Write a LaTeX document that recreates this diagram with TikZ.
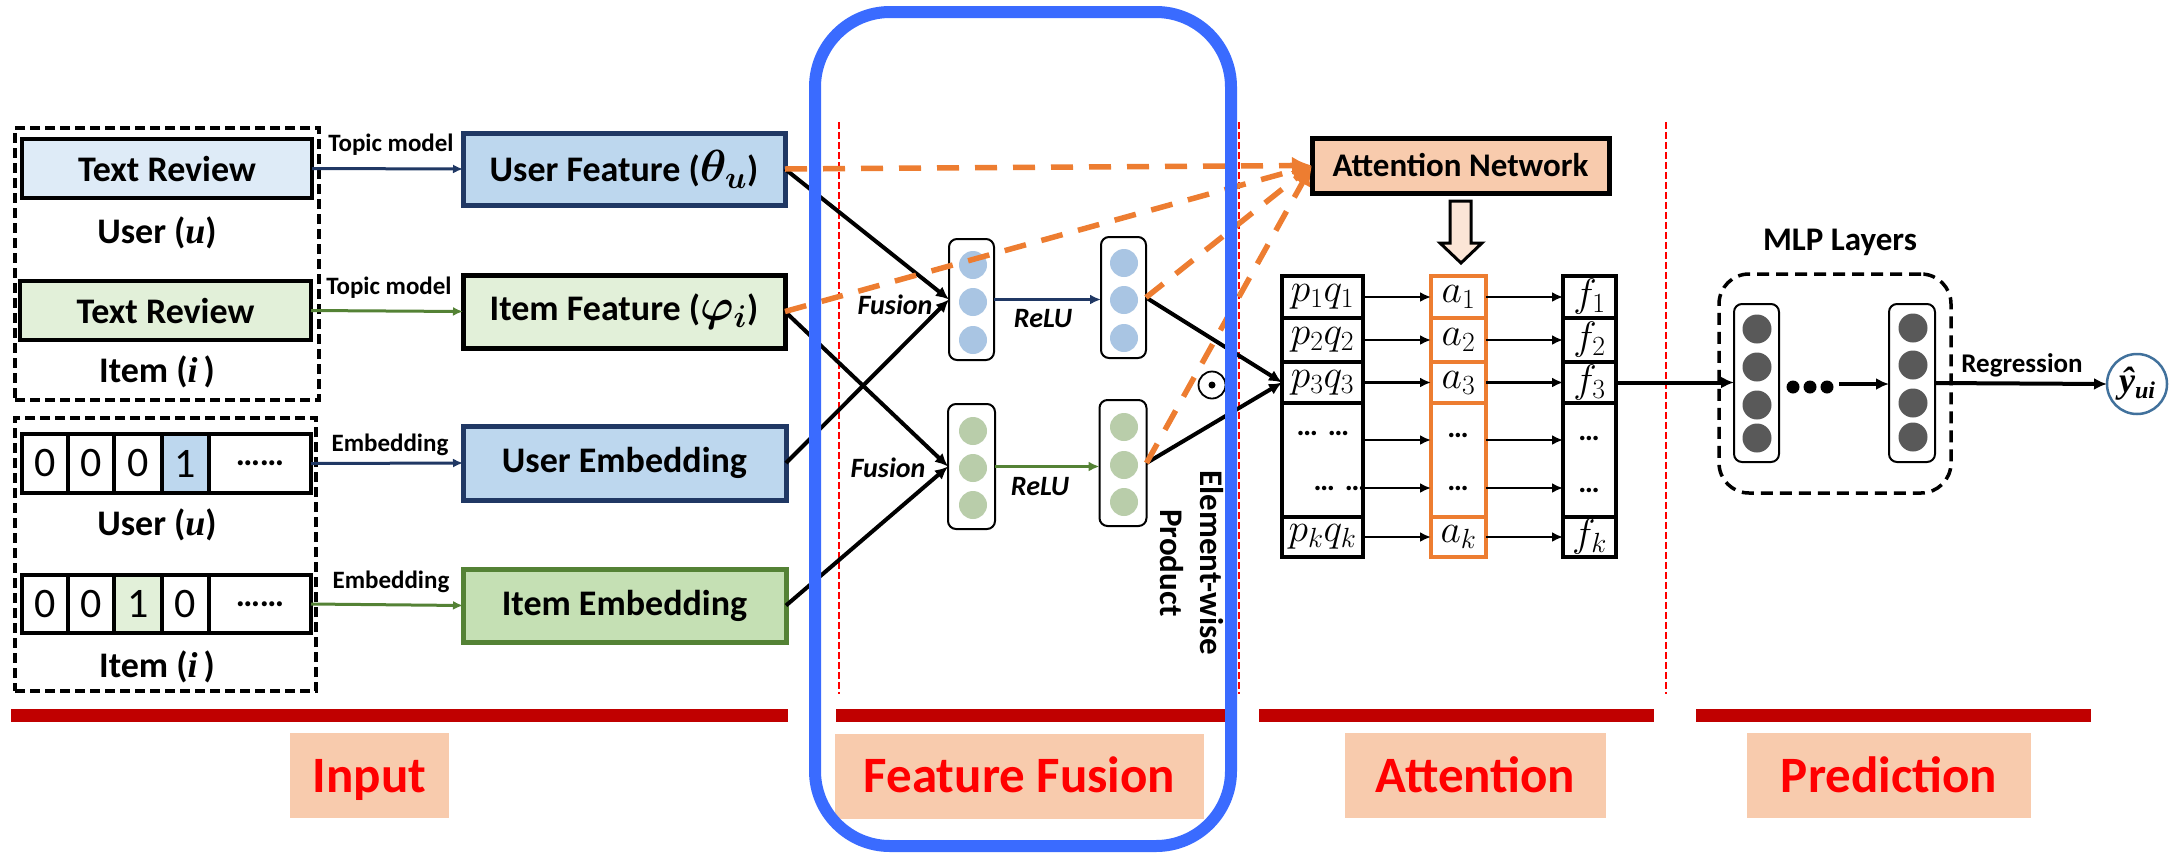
\RequirePackage{fix-cm}
\documentclass[tikz,border=0pt]{standalone}
\usepackage{fontspec}
\setmainfont{Carlito}
\newfontfamily\tserif{Liberation Serif}
\usepackage{bm}
\usetikzlibrary{arrows.meta,calc}
\newcommand{\fsz}[1]{\fontsize{#1}{#1}\selectfont}
\newcommand{\tabm}[1]{\scalebox{1.1}{$#1$}}

\definecolor{lblue}{HTML}{DEEBF7}
\definecolor{mblue}{HTML}{BDD7EE}
\definecolor{lgreen}{HTML}{E2F0D9}
\definecolor{mgreen}{HTML}{C5E0B4}
\definecolor{navy}{HTML}{203864}
\definecolor{dkgreen}{HTML}{548235}
\definecolor{orng}{HTML}{ED7D31}
\definecolor{peach}{HTML}{F8CBAD}
\definecolor{lpeach}{HTML}{FBE5D6}
\definecolor{fblue}{HTML}{3A6BFF}
\definecolor{barred}{HTML}{C00000}
\definecolor{bcirc}{HTML}{A9C5E3}
\definecolor{gcirc}{HTML}{B9CDAA}
\definecolor{mlpgray}{HTML}{595959}
\definecolor{ycirc}{HTML}{41719C}

\begin{document}
\begin{tikzpicture}[x=1pt,y=-1pt,
  every node/.style={inner sep=0pt,outer sep=0pt},
  bx/.style={draw,line width=4pt},
  grp/.style={draw,line width=4pt,dash pattern=on 10pt off 5pt},
  cell/.style={draw,line width=4pt,minimum width=#1,font=\fsz{42}},
  tag/.style={fill=peach,text=red,font=\fsz{51}\bfseries,minimum height=85pt,text height=33pt,text depth=0pt},
  prow/.style={draw,line width=4pt,minimum width=81pt,font=\fsz{36}},
  arow/.style={draw=orng,line width=3.5pt,minimum width=55pt,font=\fsz{36}},
  frow/.style={draw,line width=4pt,minimum width=53pt,font=\fsz{36}},
  vcol/.style={draw,line width=2pt,rounded corners=8pt,fill=white},
  dotc/.style={circle,minimum size=28pt,fill=#1},
  arr/.style={line width=3pt,-{Latex[length=10pt,width=9pt]}},
  blk/.style={line width=4pt,-{Latex[length=13pt,width=12pt]}},
  sarr/.style={line width=2.5pt,-{Latex[length=11pt,width=10pt]}},
  odash/.style={draw=orng,line width=5.5pt,dash pattern=on 22pt off 16pt,-{Latex[length=20pt,width=18pt]}},
  rdash/.style={draw=red,line width=2pt,dash pattern=on 7pt off 3pt},
  lbl/.style={font=\fsz{25}\bfseries}
]
\useasboundingbox (0,0) rectangle (2174,855);

% ---- section bars and captions
\fill[barred] (11,709) rectangle (788,722);
\fill[barred] (836,709) rectangle (1227,722);
\fill[barred] (1259,709) rectangle (1654,722);
\fill[barred] (1696,709) rectangle (2091,722);
\node[tag,minimum width=159pt] (lin) at (369.5,775.5) {Input};
\node[tag,minimum width=369pt] (lff) at (1019.5,776) {Feature Fusion};
\node[tag,minimum width=261pt] (lat) at (1475.5,775.5) {Attention};
\node[tag,minimum width=284pt] (lpr) at (1889,775.5) {Prediction};

% ---- section separators
\draw[rdash] (839,122) -- (839,694);
\draw[rdash] (1239,122) -- (1239,694);
\draw[rdash] (1666,122) -- (1666,694);

% ---- input: reviews
\node[grp,minimum width=304pt,minimum height=272pt] (g1) at (167,264) {};
\node[grp,minimum width=301pt,minimum height=273pt] (g2) at (165.5,554.5) {};
\node[bx,fill=lblue,minimum width=290pt,minimum height=59pt,font=\fsz{36}\bfseries] (tr1) at (167,168.5) {Text Review};
\node[bx,fill=lgreen,minimum width=291pt,minimum height=59pt,font=\fsz{36}\bfseries] (tr2) at (165.5,310.5) {Text Review};
\node[font=\fsz{36}\bfseries] (usr1) at (157,233) {User ({\tserif\itshape u})};
\node[font=\fsz{36}\bfseries] (itm1) at (157,372) {Item ({\tserif\itshape i}\,)};

% ---- input: one-hot ids
\node[cell=46pt,minimum height=59pt] (u1) at (45,463.5) {0};
\node[cell=46pt,minimum height=59pt] (u2) at (91,463.5) {0};
\node[cell=48pt,minimum height=59pt] (u3) at (138,463.5) {0};
\node[cell=47pt,minimum height=59pt,fill=mblue] (u4) at (185.5,463.5) {1};
\node[cell=102pt,minimum height=59pt] (u5) at (260,463.5) {\bfseries\fsz{34}……};
\node[cell=46pt,minimum height=58pt] (i1) at (45,604) {0};
\node[cell=46pt,minimum height=58pt] (i2) at (91,604) {0};
\node[cell=48pt,minimum height=58pt,fill=lgreen] (i3) at (138,604) {1};
\node[cell=47pt,minimum height=58pt] (i4) at (185.5,604) {0};
\node[cell=102pt,minimum height=58pt] (i5) at (260,604) {\bfseries\fsz{34}……};
\node[font=\fsz{36}\bfseries] (usr2) at (157,525) {User ({\tserif\itshape u})};
\node[font=\fsz{36}\bfseries] (itm2) at (157,667) {Item ({\tserif\itshape i}\,)};

% ---- features and embeddings
\node[bx,line width=5pt,draw=navy,fill=mblue,minimum width=322pt,minimum height=72pt,font=\fsz{36}\bfseries] (uf) at (624,169) {User Feature (\scalebox{1.25}{$\bm{\theta}_{\bm{u}}$})};
\node[bx,line width=5pt,fill=lgreen,minimum width=322pt,minimum height=73pt,font=\fsz{36}\bfseries] (itf) at (624,311.5) {Item Feature (\scalebox{1.25}{$\bm{\varphi}_{\bm{i}}$})};
\node[bx,line width=5pt,draw=navy,fill=mblue,minimum width=323pt,minimum height=74pt,font=\fsz{36}\bfseries] (ue) at (624.5,463) {User Embedding};
\node[bx,line width=5pt,draw=dkgreen,fill=mgreen,minimum width=323pt,minimum height=73pt,font=\fsz{36}\bfseries] (ie) at (624.5,605.5) {Item Embedding};

\draw[arr,navy] (tr1.east) -- (uf.west);
\draw[arr,dkgreen] (tr2.east) -- (itf.west);
\draw[arr,navy] (u5.east) -- (ue.west);
\draw[arr,dkgreen] (i5.east) -- (ie.west);
\node[lbl] (tm1) at (391,145) {Topic model};
\node[lbl] (tm2) at (389,288) {Topic model};
\node[lbl] (em1) at (390,445) {Embedding};
\node[lbl] (em2) at (391,582) {Embedding};

% ---- fusion layers
\node[vcol,minimum width=45pt,minimum height=121pt] (fl1) at (971.5,299.5) {};
\node[vcol,minimum width=45pt,minimum height=121pt] (fr1) at (1123.5,297.5) {};
\node[vcol,minimum width=47pt,minimum height=125pt] (fl2) at (971.5,466.5) {};
\node[vcol,minimum width=47pt,minimum height=126pt] (fr2) at (1123,463) {};
\foreach \yy [count=\n] in {265,302,340} \node[dotc=bcirc] (fl1c\n) at (973,\yy) {};
\foreach \yy [count=\n] in {263,300,338} \node[dotc=bcirc] (fr1c\n) at (1124,\yy) {};
\foreach \yy [count=\n] in {431,468,505} \node[dotc=gcirc] (fl2c\n) at (973,\yy) {};
\foreach \yy [count=\n] in {427,465,502} \node[dotc=gcirc] (fr2c\n) at (1124,\yy) {};

\draw[blk] (uf.east) -- (fl1.west);
\draw[blk] (ue.east) -- (fl1.west);
\draw[blk] (itf.east) -- (fl2.west);
\draw[blk] (ie.east) -- (fl2.west);
\draw[sarr,navy] (fl1.east) -- (fl1.east -| fr1.west);
\draw[sarr,dkgreen] (fl2.east) -- (fl2.east -| fr2.west);
\node[font=\fsz{28}\bfseries\itshape] (fu1) at (895,305) {Fusion};
\node[font=\fsz{28}\bfseries\itshape] (fu2) at (888,468) {Fusion};
\node[font=\fsz{28}\bfseries\itshape] (re1) at (1043,319) {ReLU};
\node[font=\fsz{28}\bfseries\itshape] (re2) at (1040,487) {ReLU};

% ---- attention network
\node[bx,line width=5pt,fill=peach,minimum width=297pt,minimum height=55pt,font=\fsz{33}\bfseries] (att) at (1460.5,165.5) {Attention Network};
\draw[line width=3pt,fill=lpeach,line join=miter] (1450,201) -- (1471,201) -- (1471,243) -- (1482,243) -- (1461,263) -- (1440,243) -- (1450,243) -- cycle;

\node[prow,minimum height=42pt] (p1) at (1322.5,297) {\tabm{p_1q_1}};
\node[prow,minimum height=44pt] (p2) at (1322.5,340) {\tabm{p_2q_2}};
\node[prow,minimum height=41pt] (p3) at (1322.5,382.5) {\tabm{p_3q_3}};
\node[prow,minimum height=114pt] (pd) at (1322.5,460) {};
\node[prow,minimum height=40pt] (pk) at (1322.5,537) {\tabm{p_kq_k}};
\node[font=\fsz{30}\bfseries] (pdt1) at (1323,433) {…\hspace{10pt}…};
\node[font=\fsz{30}\bfseries] (pdt2) at (1340,488) {…\hspace{10pt}…};

\node[arow,minimum height=42pt] (a1) at (1458.5,297) {\tabm{a_1}};
\node[arow,minimum height=44pt] (a2) at (1458.5,340) {\tabm{a_2}};
\node[arow,minimum height=41pt] (a3) at (1458.5,382.5) {\tabm{a_3}};
\node[arow,minimum height=114pt] (ad) at (1458.5,460) {};
\node[arow,minimum height=40pt] (ak) at (1458.5,537) {\tabm{a_k}};
\node[font=\fsz{30}\bfseries] (adt1) at (1458,435) {…};
\node[font=\fsz{30}\bfseries] (adt2) at (1458,488) {…};

\node[frow,minimum height=42pt] (f1) at (1589.5,297) {\tabm{f_1}};
\node[frow,minimum height=44pt] (f2) at (1589.5,340) {\tabm{f_2}};
\node[frow,minimum height=41pt] (f3) at (1589.5,382.5) {\tabm{f_3}};
\node[frow,minimum height=114pt] (fd) at (1589.5,460) {};
\node[frow,minimum height=40pt] (fk) at (1589.5,537) {\tabm{f_k}};
\node[font=\fsz{30}\bfseries] (fdt1) at (1589,438) {…};
\node[font=\fsz{30}\bfseries] (fdt2) at (1589,490) {…};

\foreach \r in {1,2,3,k} {
  \draw[sarr] (p\r.east) -- (a\r.west);
  \draw[sarr] (a\r.east) -- (f\r.west);
}
\foreach \s in {20,-28} {
  \draw[sarr] ([yshift=\s pt]pd.east) -- ([yshift=\s pt]ad.west);
  \draw[sarr] ([yshift=\s pt]ad.east) -- ([yshift=\s pt]fd.west);
}

% ---- element-wise product
\draw[blk] (fr1.east) -- (p3.west);
\draw[blk] (fr2.east) -- (p3.west);
\node[circle,draw,line width=1.8pt,minimum size=27pt] (od) at (1212,385) {};
\fill (od.center) circle[radius=3.5];
\node[rotate=-90,align=center,font=\fontsize{33}{40}\selectfont\bfseries] (ewp) at (1192,563) {Element-wise\\Product};

% ---- inputs of the attention network
\draw[odash] (uf.east) -- (att.west);
\draw[odash] (itf.east) -- (att.west);
\draw[odash] (fr1.east) -- (att.west);
\draw[odash] (fr2.east) -- (att.west);

% ---- prediction
\node[font=\fsz{33}\bfseries] (mlpt) at (1840,242) {MLP Layers};
\node[draw,line width=3.5pt,dash pattern=on 12pt off 7pt,rounded corners=30pt,minimum width=232pt,minimum height=219pt] (mlp) at (1835,383.5) {};
\node[vcol,minimum width=45pt,minimum height=158pt] (m1) at (1756.5,383) {};
\node[vcol,minimum width=46pt,minimum height=158pt] (m2) at (1912,383) {};
\foreach \yy [count=\n] in {329,367,405,438} \node[dotc=mlpgray,minimum size=29pt] (m1c\n) at (1757,\yy) {};
\foreach \yy [count=\n] in {328,365,403,437} \node[dotc=mlpgray,minimum size=29pt] (m2c\n) at (1913,\yy) {};
\foreach \xx [count=\n] in {1793,1810,1827} \node[circle,fill,minimum size=13pt] (md\n) at (\xx,387) {};
\coordinate (mdend) at (1839,384);
\draw[blk] (mdend) -- (mdend -| m2.west);
\draw[blk] (f3.east) -- (f3.east -| m1.west);
\node[circle,draw=ycirc,line width=2.5pt,minimum size=60pt] (yhat) at (2137,384) {\tserif\bfseries\itshape\fsz{36}ŷ\raisebox{-6pt}{\fsz{24}ui}};
\draw[blk] (m2.east) -- (yhat.west);
\node[font=\fsz{27}\bfseries] (reg) at (2022,365) {Regression};

% ---- highlighted stage
\draw[fblue,line width=12pt,rounded corners=75pt] (815,12) rectangle (1231,846);
\end{tikzpicture}
\end{document}
